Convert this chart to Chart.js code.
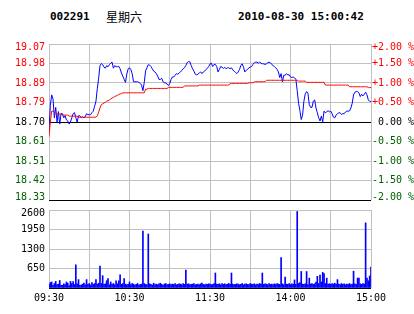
<!DOCTYPE html>
<html>
<head>
<meta charset="utf-8">
<script src="https://cdn.jsdelivr.net/npm/chart.js@4.4.0/dist/chart.umd.min.js"></script>
<style>
  body { margin: 0; background: #fff; }
  #wrap { position: relative; width: 414px; height: 314px; overflow: hidden; background: #fff; }
  .title { position: absolute; top: 11px; font: bold 11px "DejaVu Sans Mono", monospace; line-height: 12px; color: #000; white-space: pre; }
  .title.cn { font: 12px "Noto Sans CJK SC", sans-serif; line-height: 12px; }
  canvas { position: absolute; left: 0; }
</style>
</head>
<body>
<div id="wrap">
  <div class="title" style="left:50px">002291</div>
  <div class="title cn" style="left:106px">星期六</div>
  <div class="title" style="left:238px">2010-08-30 15:00:42</div>
  <canvas id="price" width="414" height="210" style="top:0"></canvas>
  <canvas id="vol" width="414" height="114" style="top:200px"></canvas>
</div>
<script>
// previous close and axis ticks
const preClose = 18.70;
const pctTicks = [-2, -1.5, -1, -0.5, 0, 0.5, 1, 1.5, 2];
const priceTickLabels = ["18.33", "18.42", "18.51", "18.61", "18.70", "18.79", "18.89", "18.98", "19.07"];
const gridMinutes = [0, 30, 60, 90, 120, 150, 180, 210, 240];
const timeLabels = ["09:30", "", "10:30", "", "11:30", "", "14:00", "", "15:00"];
const volTicks = [0, 650, 1300, 1950, 2600];

// one value per trading minute (09:30 .. 11:30, 13:00 .. 15:00)
const prices = [
  18.66, 18.78, 18.83, 18.81, 18.72, 18.77, 18.70, 18.75, 18.69, 18.74,
  18.74, 18.72, 18.73, 18.71, 18.705, 18.69, 18.70, 18.72, 18.74, 18.745,
  18.72, 18.70, 18.73, 18.73, 18.72, 18.725, 18.72, 18.725, 18.74, 18.735,
  18.735, 18.735, 18.745, 18.752, 18.775, 18.80, 18.86, 18.91, 18.97, 18.98,
  18.975, 18.963, 18.958, 18.97, 18.965, 18.975, 18.982, 18.987, 18.958, 18.97,
  18.965, 18.965, 18.967, 18.955, 18.935, 18.92, 18.905, 18.89, 18.93, 18.955,
  18.96, 18.952, 18.932, 18.893, 18.893, 18.893, 18.893, 18.89, 18.885, 18.877,
  18.85, 18.89, 18.945, 18.96, 18.975, 18.973, 18.966, 18.955, 18.944, 18.94,
  18.932, 18.92, 18.904, 18.904, 18.91, 18.893, 18.888, 18.887, 18.882, 18.875,
  18.885, 18.904, 18.916, 18.916, 18.924, 18.932, 18.929, 18.935, 18.94, 18.948,
  18.955, 18.96, 18.971, 18.985, 18.99, 18.988, 18.971, 18.955, 18.944, 18.929,
  18.926, 18.929, 18.935, 18.94, 18.932, 18.94, 18.944, 18.952, 18.957, 18.966,
  18.978, 18.982, 18.966, 18.976, 18.976, 18.966, 18.94, 18.952, 18.966, 18.963,
  18.957, 18.963, 18.955, 18.96, 18.96, 18.955, 18.96, 18.95, 18.943, 18.938,
  18.932, 18.94, 18.952, 18.971, 18.979, 18.963, 18.94, 18.948, 18.952, 18.96,
  18.963, 18.966, 18.976, 18.984, 18.987, 18.987, 18.982, 18.987, 18.982, 18.979,
  18.979, 18.976, 18.979, 18.984, 18.987, 18.984, 18.976, 18.971, 18.966, 18.96,
  18.952, 18.94, 18.913, 18.932, 18.893, 18.924, 18.924, 18.932, 18.925, 18.927,
  18.916, 18.913, 18.916, 18.912, 18.905, 18.85, 18.79, 18.755, 18.712, 18.733,
  18.80, 18.835, 18.846, 18.838, 18.783, 18.77, 18.77, 18.80, 18.806, 18.767,
  18.744, 18.72, 18.705, 18.728, 18.701, 18.752, 18.744, 18.748, 18.755, 18.748,
  18.752, 18.74, 18.723, 18.72, 18.733, 18.74, 18.744, 18.744, 18.736, 18.74,
  18.74, 18.748, 18.752, 18.752, 18.753, 18.767, 18.79, 18.83, 18.843, 18.846,
  18.846, 18.84, 18.822, 18.833, 18.825, 18.833, 18.843, 18.83, 18.806, 18.799,
  18.799
];

const avgPrices = [
  18.63, 18.70, 18.752, 18.752, 18.747, 18.74, 18.738, 18.738, 18.738, 18.738,
  18.733, 18.733, 18.733, 18.733, 18.733, 18.728, 18.728, 18.728, 18.728, 18.728,
  18.728, 18.728, 18.723, 18.723, 18.723, 18.723, 18.723, 18.723, 18.723, 18.723,
  18.723, 18.723, 18.723, 18.723, 18.723, 18.723, 18.73, 18.747, 18.767, 18.783,
  18.787, 18.791, 18.795, 18.80, 18.802, 18.806, 18.81, 18.815, 18.818, 18.822,
  18.825, 18.828, 18.831, 18.834, 18.837, 18.839, 18.84, 18.84, 18.84, 18.84,
  18.84, 18.84, 18.84, 18.84, 18.84, 18.84, 18.84, 18.84, 18.84, 18.84,
  18.84, 18.84, 18.857, 18.857, 18.861, 18.861, 18.861, 18.861, 18.861, 18.861,
  18.861, 18.861, 18.861, 18.861, 18.861, 18.861, 18.861, 18.861, 18.861, 18.866,
  18.866, 18.866, 18.866, 18.866, 18.866, 18.866, 18.866, 18.866, 18.866, 18.866,
  18.866, 18.873, 18.873, 18.873, 18.873, 18.873, 18.873, 18.873, 18.873, 18.873,
  18.873, 18.873, 18.877, 18.877, 18.877, 18.877, 18.877, 18.877, 18.877, 18.877,
  18.877, 18.877, 18.877, 18.877, 18.877, 18.877, 18.877, 18.877, 18.877, 18.877,
  18.877, 18.877, 18.877, 18.877, 18.877, 18.885, 18.885, 18.885, 18.885, 18.885,
  18.885, 18.885, 18.885, 18.885, 18.885, 18.885, 18.885, 18.885, 18.885, 18.888,
  18.888, 18.888, 18.888, 18.893, 18.893, 18.893, 18.893, 18.893, 18.893, 18.893,
  18.893, 18.893, 18.90, 18.90, 18.90, 18.90, 18.90, 18.90, 18.90, 18.90,
  18.90, 18.90, 18.90, 18.90, 18.90, 18.90, 18.90, 18.90, 18.90, 18.90,
  18.90, 18.90, 18.90, 18.90, 18.90, 18.90, 18.896, 18.896, 18.896, 18.896,
  18.896, 18.896, 18.89, 18.89, 18.89, 18.89, 18.89, 18.89, 18.89, 18.89,
  18.89, 18.89, 18.89, 18.89, 18.89, 18.89, 18.877, 18.877, 18.877, 18.877,
  18.877, 18.877, 18.877, 18.877, 18.877, 18.877, 18.877, 18.877, 18.877, 18.877,
  18.877, 18.877, 18.877, 18.877, 18.869, 18.869, 18.869, 18.869, 18.869, 18.869,
  18.869, 18.869, 18.869, 18.869, 18.869, 18.869, 18.869, 18.869, 18.865, 18.865,
  18.865
];

const volumes = [
  120, 180, 200, 90, 150, 220, 110, 130, 250, 100,
  90, 140, 110, 200, 160, 80, 220, 150, 210, 120,
  770, 140, 280, 90, 100, 130, 160, 110, 280, 120,
  150, 100, 180, 120, 150, 280, 130, 160, 730, 150,
  410, 120, 140, 245, 310, 110, 200, 120, 150, 110,
  240, 140, 240, 440, 120, 150, 310, 130, 110, 120,
  200, 110, 150, 130, 100, 120, 150, 100, 120, 130,
  1900, 150, 120, 110, 1800, 140, 120, 100, 160, 110,
  130, 110, 140, 160, 120, 100, 130, 150, 110, 120,
  140, 110, 130, 120, 150, 110, 120, 140, 130, 110,
  150, 120, 600, 130, 140, 110, 120, 130, 150, 110,
  120, 130, 110, 140, 160, 120, 110, 130, 120, 140,
  130, 110, 120, 150, 500, 130, 120, 140, 110, 150,
  120, 140, 110, 130, 150, 120, 500, 130, 110, 120,
  140, 130, 110, 120, 150, 110, 130, 140, 120, 110,
  150, 130, 120, 140, 110, 130, 120, 150, 130, 500,
  120, 140, 130, 110, 150, 120, 130, 110, 140, 120,
  150, 130, 120, 1010, 140, 110, 360, 130, 120, 150,
  110, 140, 130, 270, 120, 2550, 150, 180, 550, 130,
  120, 140, 550, 110, 330, 130, 150, 120, 140, 200,
  390, 150, 430, 200, 520, 480, 150, 330, 130, 140,
  120, 150, 130, 160, 120, 280, 130, 110, 150, 120,
  140, 110, 130, 120, 150, 110, 130, 560, 140, 120,
  330, 330, 140, 120, 150, 130, 2170, 330, 240, 400,
  700
];

const priceColor = (i) => i > 4 ? "#ff0000" : (i === 4 ? "#000000" : "#006000");
const tickFont = { family: "DejaVu Sans Mono", size: 10 };

// keep the first/last axis labels inside the plot, like the original terminal chart
const edgeLabels = {
  id: "edgeLabels",
  beforeDraw(chart, args, opts) {
    (opts.scales || []).forEach((id) => {
      const items = chart.scales[id].getLabelItems();
      const n = items.length;
      if (opts.bottom && n) items[0].options.translation[1] -= 3;
      if (opts.top && n) items[n - 1].options.translation[1] += 3;
    });
  }
};

new Chart(document.getElementById("price"), {
  type: "line",
  data: {
    datasets: [
      {
        data: avgPrices.map((v, i) => ({ x: i, y: v })),
        borderColor: "#ff0000",
        borderWidth: 1,
        pointRadius: 0,
        tension: 0
      },
      {
        data: prices.map((v, i) => ({ x: i, y: v })),
        borderColor: "#0000ff",
        borderWidth: 1,
        pointRadius: 0,
        tension: 0
      }
    ]
  },
  plugins: [edgeLabels],
  options: {
    responsive: false,
    animation: false,
    layout: { padding: { top: 44, bottom: 7, left: 0, right: 0 } },
    plugins: {
      legend: { display: false },
      tooltip: { enabled: false },
      edgeLabels: { scales: ["y", "y2"], top: true, bottom: true }
    },
    scales: {
      x: {
        type: "linear",
        min: 0,
        max: 240,
        afterBuildTicks: (s) => { s.ticks = gridMinutes.map((v) => ({ value: v })); },
        afterFit: (s) => { s.height = 0; },
        ticks: { display: false },
        grid: { color: "#c0c0c0", drawTicks: false },
        border: { display: false }
      },
      y: {
        position: "left",
        min: preClose * 0.98,
        max: preClose * 1.02,
        afterBuildTicks: (s) => { s.ticks = pctTicks.map((p) => ({ value: preClose * (1 + p / 100) })); },
        afterFit: (s) => { s.width = 49; },
        ticks: {
          font: tickFont,
          padding: 4,
          color: (ctx) => priceColor(ctx.index),
          callback: (v, i) => priceTickLabels[i]
        },
        grid: {
          drawTicks: false,
          color: (ctx) => (ctx.index === 0 || ctx.index === 4) ? "#000000" : "#c0c0c0"
        },
        border: { display: false }
      },
      y2: {
        position: "right",
        min: -2,
        max: 2,
        afterBuildTicks: (s) => { s.ticks = pctTicks.map((p) => ({ value: p })); },
        afterFit: (s) => { s.width = 43; },
        ticks: {
          font: tickFont,
          padding: 1,
          color: (ctx) => priceColor(ctx.index),
          callback: (v) => (v > 0 ? "+" : (v < 0 ? "-" : " ")) + Math.abs(v).toFixed(2) + " %"
        },
        grid: { display: false, drawTicks: false },
        border: { display: false }
      }
    }
  }
});

new Chart(document.getElementById("vol"), {
  type: "bar",
  data: {
    datasets: [{
      data: volumes.map((v, i) => ({ x: i, y: v })),
      backgroundColor: "#0000ff",
      borderWidth: 0,
      barThickness: 1
    }]
  },
  plugins: [edgeLabels],
  options: {
    responsive: false,
    animation: false,
    layout: { padding: { top: 9, bottom: 0, left: 0, right: 43 } },
    plugins: {
      legend: { display: false },
      tooltip: { enabled: false },
      edgeLabels: { scales: ["y"], top: true, bottom: false }
    },
    scales: {
      x: {
        type: "linear",
        min: 0,
        max: 240,
        offset: false,
        afterBuildTicks: (s) => { s.ticks = gridMinutes.map((v) => ({ value: v })); },
        afterFit: (s) => { s.height = 26; },
        ticks: {
          font: tickFont,
          color: "#000",
          padding: 4,
          autoSkip: false,
          maxRotation: 0,
          callback: (v, i) => timeLabels[i]
        },
        grid: { color: "#c0c0c0", drawTicks: false, offset: false },
        border: { display: false }
      },
      y: {
        min: 0,
        max: 2600,
        afterBuildTicks: (s) => { s.ticks = volTicks.map((v) => ({ value: v })); },
        afterFit: (s) => { s.width = 49; },
        ticks: {
          font: tickFont,
          color: "#000",
          padding: 4,
          callback: (v) => v === 0 ? "" : String(v)
        },
        grid: {
          drawTicks: false,
          color: (ctx) => ctx.index === 0 ? "#000000" : "#c0c0c0"
        },
        border: { display: false }
      }
    }
  }
});
</script>
</body>
</html>
